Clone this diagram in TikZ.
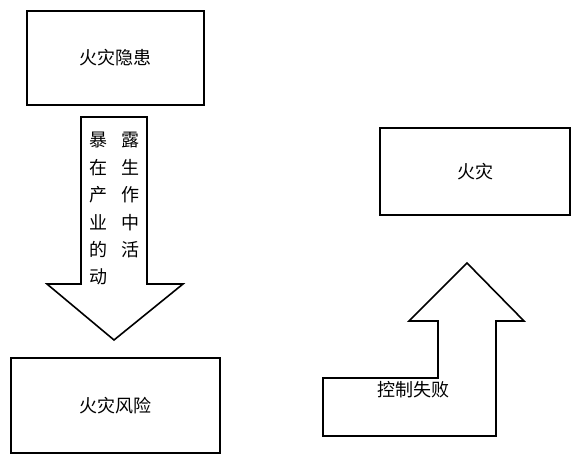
\documentclass[tikz,border=0pt]{standalone}
\usepackage{fontspec}
\newfontfamily\cjk{Noto Sans CJK SC}
\begin{document}
\begin{tikzpicture}[x=1pt,y=-1pt,
  box/.style={draw,line width=1.6pt,rectangle,inner sep=0pt,font=\cjk\fontsize{18}{21}\selectfont},
  blockarrow/.style={draw,line width=1.6pt,line join=miter,fill=white},
  lbl/.style={inner sep=0pt,font=\cjk\fontsize{18}{21}\selectfont}]
\useasboundingbox (0,0) rectangle (585,462);
% boxes
\node[box,minimum width=177pt,minimum height=94pt] (hidden) at (115.5,58) {火灾隐患};
\node[box,minimum width=209pt,minimum height=95pt] (risk) at (115.5,405.5) {火灾风险};
\node[box,minimum width=190pt,minimum height=87pt] (fire) at (475,171.5) {火灾};
% down block arrow
\draw[blockarrow] (81,117) -- (147,117) -- (147,284) -- (183,284) -- (114,340) -- (47,284) -- (81,284) -- cycle;
\foreach \c [count=\i from 0] in {暴,在,产,业,的,动}
  \node[lbl] (l\i) at (98,140+27.4*\i) {\c};
\foreach \c [count=\i from 0] in {露,生,作,中,活}
  \node[lbl] (r\i) at (130,140+27.4*\i) {\c};
% bent block arrow
\draw[blockarrow] (323,436) -- (323,378) -- (438,378) -- (438,321) -- (409,321) -- (467,263) -- (524,321) -- (496,321) -- (496,436) -- cycle;
\node[lbl] (fail) at (413,390) {控制失败};
\end{tikzpicture}
\end{document}
